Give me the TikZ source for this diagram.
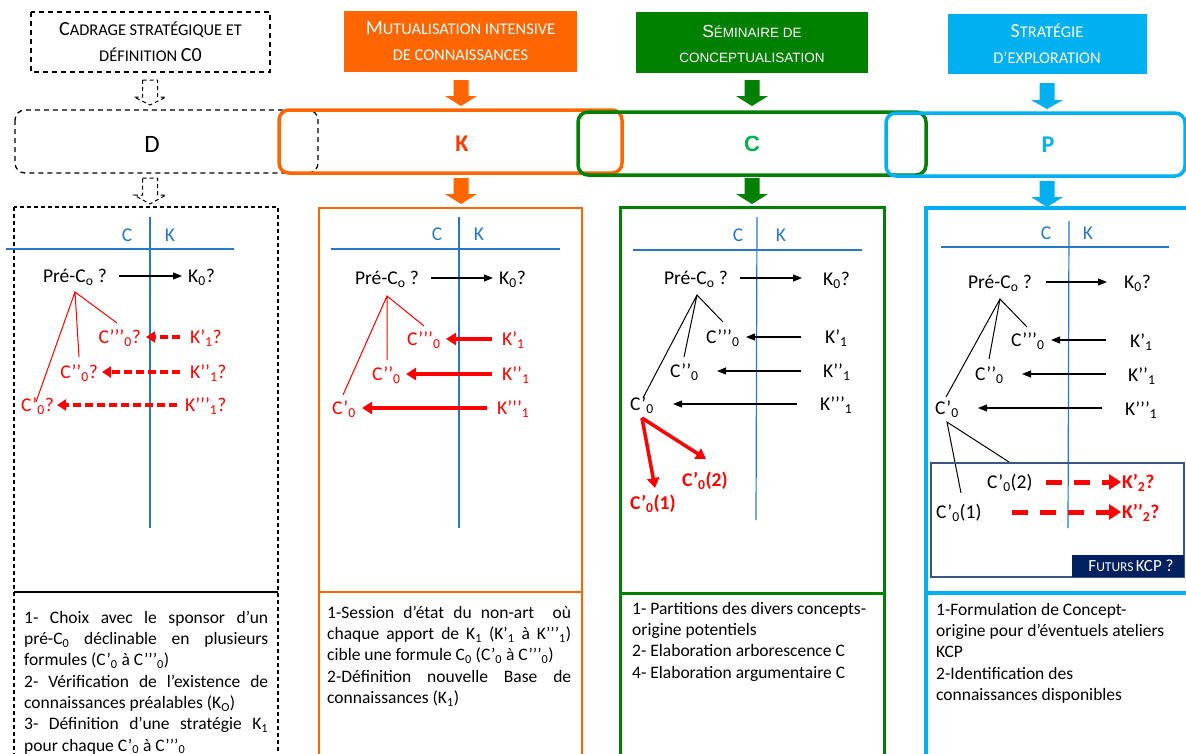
\documentclass[tikz,border=0pt]{standalone}
\usepackage{fontspec}
\setmainfont{Carlito}
\newfontfamily\arialf{Liberation Sans}
\usetikzlibrary{arrows.meta}
\definecolor{orng}{RGB}{255,102,0}
\definecolor{korng}{RGB}{255,60,0}
\definecolor{grn}{RGB}{0,128,0}
\definecolor{cgrn}{RGB}{0,176,80}
\definecolor{cyanb}{RGB}{0,176,240}
\definecolor{axb}{RGB}{40,120,195}
\definecolor{navy}{RGB}{0,32,96}
\definecolor{slate}{RGB}{56,87,135}
\newcommand\ssub[1]{\textsubscript{#1}}
\newcommand\dfont{\fontsize{19.5}{23}\selectfont}
\newcommand\bfont{\fontsize{17.5}{21.3}\selectfont}
\newcommand\Bg[1]{{\fontsize{20}{26}\selectfont #1}}
\newcommand\Sm[1]{{\fontsize{16.4}{26}\selectfont #1}}
\newcommand\ABg[1]{{\fontsize{17.5}{25}\selectfont #1}}
\newcommand\ASm[1]{{\fontsize{13.5}{25}\selectfont #1}}
\newcommand\FBg[1]{{\fontsize{17}{20}\selectfont #1}}
\newcommand\FSm[1]{{\fontsize{13.5}{20}\selectfont #1}}
\newcommand\blockarr[5]{\path[#5] (#1-7.5,#2) -- (#1+7.5,#2) -- (#1+7.5,#3) -- (#1+16,#3) -- (#1,#4) -- (#1-16,#3) -- (#1-7.5,#3) -- cycle;}
\newcommand\firstl{\rule{0pt}{14pt}}
\tikzset{
  dt/.style={font=\dfont, inner sep=0pt, text=black},
  rdt/.style={dt, text=red},
  rbdt/.style={font=\dfont\bfseries, inner sep=0pt, text=red},
  axln/.style={draw=axb, line width=1.2pt},
  axlbl/.style={font=\fontsize{19.5}{22}\selectfont, text=axb, inner sep=0pt},
  blk/.style={draw=black, line width=1.1pt, -{Triangle[length=9pt,width=7pt]}},
  treeb/.style={draw=black, line width=1pt},
  treer/.style={draw=red, line width=1pt},
  rdsh/.style={draw=red, line width=3.5pt, dash pattern=on 8pt off 4pt, -{Triangle[length=9pt,width=11pt]}},
  rsol/.style={draw=red, line width=3.5pt, -{Triangle[length=10pt,width=12pt]}},
  rdsh2/.style={draw=red, line width=5pt, dash pattern=on 16pt off 12pt, -{Triangle[length=12pt,width=15pt]}},
  btxt/.style={font=\bfont, inner sep=0pt, align=left, anchor=north west, text=black},
  hdr/.style={align=center, inner sep=0pt, font=\fontsize{16.4}{26}\selectfont},
  bigl/.style={inner sep=0pt, font=\fontsize{25}{28}\selectfont},
}
\begin{document}
\begin{tikzpicture}[x=1pt,y=-1pt]
\useasboundingbox (0,0) rectangle (1186,753);
\fill[white] (0,0) rectangle (1186,753);

% ---------------- headers ----------------
\draw[dashed, line width=1.2pt, dash pattern=on 5pt off 4pt] (31,12) rectangle (270,72);
\node[hdr] (h1) at (150.5,42) {\Bg{C}\Sm{ADRAGE STRATÉGIQUE ET}\\\Sm{DÉFINITION }\Bg{C0}};
\fill[orng] (344,11) rectangle (577,72);
\node[hdr, text=white] (h2) at (460.5,41) {\Bg{M}\Sm{UTUALISATION INTENSIVE}\\\Sm{DE CONNAISSANCES}};
\fill[grn] (636,12) rectangle (868,73);
\node[hdr, text=white, font=\arialf\fontsize{13.5}{25}\selectfont] (h3) at (752,44) {\ABg{S}\ASm{ÉMINAIRE DE}\\\ASm{CONCEPTUALISATION}};
\fill[cyanb] (948,14) rectangle (1147,74);
\node[hdr, text=white] (h4) at (1047,44) {\Bg{S}\Sm{TRATÉGIE}\\\Sm{D’EXPLORATION}};

% block arrows
\blockarr{150}{80}{97}{105}{draw=black, dashed, line width=1pt, dash pattern=on 4pt off 3pt, fill=white}
\blockarr{150}{178}{195}{204}{draw=black, dashed, line width=1pt, dash pattern=on 4pt off 3pt, fill=white}
\blockarr{461}{80}{96}{106}{fill=orng}
\blockarr{461}{178}{194}{204}{fill=orng}
\blockarr{752}{80}{96}{106}{fill=grn}
\blockarr{752}{178}{194}{204}{fill=grn}
\blockarr{1047}{83}{100}{109}{fill=cyanb}
\blockarr{1047}{181}{197}{207}{fill=cyanb}

% D K C P boxes
\draw[dashed, line width=1.3pt, dash pattern=on 5pt off 4pt, rounded corners=10pt] (15,110) rectangle (318,173);
\draw[orng, line width=3.5pt, rounded corners=10pt] (279,110) rectangle (622,173);
\draw[grn, line width=3.5pt, rounded corners=10pt] (578,112) rectangle (926,175);
\draw[cyanb, line width=3.5pt, rounded corners=10pt] (886,113) rectangle (1185,176);
\node[bigl] (D) at (152,144) {D};
\node[bigl, text=korng, font=\fontsize{24}{28}\selectfont\bfseries] (K) at (462,144) {K};
\node[bigl, text=cgrn, font=\arialf\fontsize{22}{28}\selectfont\bfseries] (C) at (752,144) {C};
\node[bigl, text=cyanb, font=\fontsize{24}{28}\selectfont\bfseries] (P) at (1048,145) {P};

% main column boxes
\draw[line width=1.2pt, dash pattern=on 4pt off 3pt] (14,207) rectangle (278,760);
\draw[line width=1.2pt] (14,592) -- (278,592);
\draw[orng, line width=2pt] (319,208) rectangle (582,760);
\draw[orng, line width=2pt] (319,592) -- (582,592);
\draw[grn, line width=3pt] (620,207) rectangle (884,760);
\draw[grn, line width=3pt] (620,593) -- (884,593);
\draw[cyanb, line width=4pt] (926,208) rectangle (1192,760);
\draw[cyanb, line width=4pt] (926,593) -- (1192,593);

% ---------------- column 1 ----------------
\draw[axln] (6,249) -- (234,249);
\draw[axln] (150,217) -- (150,528);
\node[axlbl] (a1C) at (127,235) {C};
\node[axlbl] (a1K) at (170,235) {K};
\node[dt, anchor=base] (a1pre) at (75,282) {Pré-C\ssub{o} ?};
\node[dt, anchor=base west] (a1k0) at (188,282) {K\ssub{0}?};
\coordinate (a1s0) at (119,276); \coordinate (a1e0) at (182,276);
\draw[blk] (a1s0) -- (a1e0);
\coordinate (a1ap) at (75,292);
\coordinate (a1t3) at (117,323); \coordinate (a1t2) at (79,357); \coordinate (a1t1) at (36,402);
\draw[treer] (a1t3) -- (a1ap) -- (a1t2) (a1ap) -- (a1t1);
\node[rdt, anchor=base east] (a1c3) at (141,343) {C’’’\ssub{0}?};
\node[rdt, anchor=base west] (a1k1) at (190,343) {K’\ssub{1}?};
\node[rdt, anchor=base east] (a1c2) at (98,378) {C’’\ssub{0}?};
\node[rdt, anchor=base west] (a1k2) at (190,378) {K’’\ssub{1}?};
\node[rdt, anchor=base east] (a1c1) at (54,411) {C’\ssub{0}?};
\node[rdt, anchor=base west] (a1k3) at (185,411) {K’’’\ssub{1}?};
\coordinate (a1s1) at (180,337); \coordinate (a1e1) at (146,337);
\coordinate (a1s2) at (180,372); \coordinate (a1e2) at (102,372);
\coordinate (a1s3) at (177,405); \coordinate (a1e3) at (57,405);
\draw[rdsh] (a1s1) -- (a1e1);
\draw[rdsh] (a1s2) -- (a1e2);
\draw[rdsh] (a1s3) -- (a1e3);

% ---------------- column 2 ----------------
\draw[axln] (331,249) -- (560,249);
\draw[axln] (459,217) -- (459,528);
\node[axlbl] (a2C) at (437,234) {C};
\node[axlbl] (a2K) at (479,234) {K};
\node[dt, anchor=base] (a2pre) at (387,284) {Pré-C\ssub{o} ?};
\node[dt, anchor=base west] (a2k0) at (499,284) {K\ssub{0}?};
\coordinate (a2s0) at (431,278); \coordinate (a2e0) at (493,278);
\draw[blk] (a2s0) -- (a2e0);
\coordinate (a2ap) at (387,296);
\coordinate (a2t3) at (424,326); \coordinate (a2t2) at (387,360); \coordinate (a2t1) at (343,395);
\draw[treer] (a2t3) -- (a2ap) -- (a2t2) (a2ap) -- (a2t1);
\node[rdt, anchor=base west] (a2c3) at (407,345) {C’’’\ssub{0}};
\node[rdt, anchor=base west] (a2k1) at (502,345) {K’\ssub{1}};
\node[rdt, anchor=base west] (a2c2) at (372,380) {C’’\ssub{0}};
\node[rdt, anchor=base west] (a2k2) at (502,380) {K’’\ssub{1}};
\node[rdt, anchor=base west] (a2c1) at (332,414) {C’\ssub{0}};
\node[rdt, anchor=base west] (a2k3) at (497,414) {K’’’\ssub{1}};
\coordinate (a2s1) at (492,339); \coordinate (a2e1) at (446,339);
\coordinate (a2s2) at (492,374); \coordinate (a2e2) at (406,374);
\coordinate (a2s3) at (487,408); \coordinate (a2e3) at (362,408);
\draw[rsol] (a2s1) -- (a2e1);
\draw[rsol] (a2s2) -- (a2e2);
\draw[rsol] (a2s3) -- (a2e3);

% ---------------- column 3 ----------------
\draw[axln] (633,250) -- (862,250);
\draw[axln] (757,217) -- (756,520);
\node[axlbl] (a3C) at (738,235) {C};
\node[axlbl] (a3K) at (781,235) {K};
\node[dt, anchor=base] (a3pre) at (696,284) {Pré-C\ssub{o} ?};
\node[dt, anchor=base west] (a3k0) at (823,285) {K\ssub{0}?};
\coordinate (a3s0) at (740,278); \coordinate (a3e0) at (802,278);
\draw[blk] (a3s0) -- (a3e0);
\coordinate (a3ap) at (697,295);
\coordinate (a3t3) at (723,322); \coordinate (a3t2) at (684,357); \coordinate (a3t1) at (643,398);
\draw[treeb] (a3t3) -- (a3ap) -- (a3t2) (a3ap) -- (a3t1);
\node[dt, anchor=base west] (a3c3) at (706,343) {C’’’\ssub{0}};
\node[dt, anchor=base west] (a3k1) at (825,343) {K’\ssub{1}};
\node[dt, anchor=base west] (a3c2) at (670,377) {C’’\ssub{0}};
\node[dt, anchor=base west] (a3k2) at (823,377) {K’’\ssub{1}};
\node[dt, anchor=base west] (a3c1) at (630,410) {C’\ssub{0}};
\node[dt, anchor=base west] (a3k3) at (820,410) {K’’’\ssub{1}};
\coordinate (a3s1) at (801,337); \coordinate (a3e1) at (746,337);
\coordinate (a3s2) at (801,371); \coordinate (a3e2) at (717,371);
\coordinate (a3s3) at (797,404); \coordinate (a3e3) at (673,404);
\draw[blk] (a3s1) -- (a3e1);
\draw[blk] (a3s2) -- (a3e2);
\draw[blk] (a3s3) -- (a3e3);
\coordinate (a3r0) at (642,418);
\coordinate (a3r1) at (655,488); \coordinate (a3r2) at (706,459);
\draw[rsol] (a3r0) -- (a3r1);
\draw[rsol] (a3r0) -- (a3r2);
\node[rbdt, anchor=base west] (a3c02) at (682,486) {C’\ssub{0}(2)};
\node[rbdt, anchor=base west] (a3c01) at (630,509) {C’\ssub{0}(1)};

% ---------------- column 4 ----------------
\draw[axln] (941,247) -- (1169,247);
\draw[axln] (1069,221) -- (1068,528);
\node[axlbl] (a4C) at (1046,233) {C};
\node[axlbl] (a4K) at (1088,233) {K};
\node[dt, anchor=base] (a4pre) at (1000,288) {Pré-C\ssub{o} ?};
\node[dt, anchor=base west] (a4k0) at (1124,288) {K\ssub{0}?};
\coordinate (a4s0) at (1046,282); \coordinate (a4e0) at (1107,282);
\draw[blk] (a4s0) -- (a4e0);
\coordinate (a4ap) at (1000,299);
\coordinate (a4t3) at (1027,327); \coordinate (a4t2) at (989,359); \coordinate (a4t1) at (946,397);
\draw[treeb] (a4t3) -- (a4ap) -- (a4t2) (a4ap) -- (a4t1);
\node[dt, anchor=base west] (a4c3) at (1011,346) {C’’’\ssub{0}};
\node[dt, anchor=base west] (a4k1) at (1130,347) {K’\ssub{1}};
\node[dt, anchor=base west] (a4c2) at (975,380) {C’’\ssub{0}};
\node[dt, anchor=base west] (a4k2) at (1128,381) {K’’\ssub{1}};
\node[dt, anchor=base west] (a4c1) at (935,414) {C’\ssub{0}};
\node[dt, anchor=base west] (a4k3) at (1125,415) {K’’’\ssub{1}};
\coordinate (a4s1) at (1106,340); \coordinate (a4e1) at (1051,340);
\coordinate (a4s2) at (1106,374); \coordinate (a4e2) at (1022,374);
\coordinate (a4s3) at (1102,408); \coordinate (a4e3) at (978,408);
\draw[blk] (a4s1) -- (a4e1);
\draw[blk] (a4s2) -- (a4e2);
\draw[blk] (a4s3) -- (a4e3);
\coordinate (a4sap) at (947,422);
\coordinate (a4u1) at (961,493); \coordinate (a4u2) at (1009,462);
\draw[treeb] (a4u1) -- (a4sap) -- (a4u2);
\draw[slate, line width=2.5pt] (931,463) rectangle (1184,577);
\fill[navy] (1072,555) rectangle (1184,577);
\node[inner sep=0pt, text=white] (fut) at (1131,566) {\FBg{F}\FSm{UTURS} \FBg{KCP ?}};
\node[dt, anchor=base west] (a4c02) at (987,488) {C’\ssub{0}(2)};
\node[dt, anchor=base west] (a4c01) at (936,518) {C’\ssub{0}(1)};
\node[rbdt, anchor=base west] (a4k21) at (1122,488) {K’\ssub{2}?};
\node[rbdt, anchor=base west] (a4k22) at (1122,518) {K’’\ssub{2}?};
\coordinate (a4d1s) at (1046,482); \coordinate (a4d1e) at (1121,482);
\coordinate (a4d2s) at (1012,512); \coordinate (a4d2e) at (1121,512);
\draw[rdsh2] (a4d1s) -- (a4d1e);
\draw[rdsh2] (a4d2s) -- (a4d2e);

% ---------------- bottom texts ----------------
\node[btxt] (b1) at (24,609) {\firstl\makebox[244pt][s]{1- Choix avec le sponsor d’un}\\
\makebox[244pt][s]{pré-C\ssub{0} déclinable en plusieurs}\\
formules (C’\ssub{0} à C’’’\ssub{0})\\
\makebox[244pt][s]{2- Vérification de l’existence de}\\
connaissances préalables (K\ssub{O})\\
\makebox[244pt][s]{3- Définition d’une stratégie K\ssub{1}}\\
pour chaque C’\ssub{0} à C’’’\ssub{0}};
\node[btxt] (b2) at (327,604) {\firstl\makebox[244pt][s]{1-Session d’état du non-art \ où}\\
\makebox[244pt][s]{chaque apport de K\ssub{1} (K’\ssub{1} à K’’’\ssub{1})}\\
cible une formule C\ssub{0} (C'\ssub{0} à C’’’\ssub{0})\\
\makebox[244pt][s]{2-Définition nouvelle Base de}\\
connaissances (K\ssub{1})};
\node[btxt] (b3) at (632,600) {\firstl 1- Partitions des divers concepts-\\
origine potentiels\\
2- Elaboration arborescence C\\
4- Elaboration argumentaire C};
\node[btxt] (b4) at (936,601) {\firstl 1-Formulation de Concept-\\
origine pour d’éventuels ateliers\\
KCP\\
2-Identification des\\
connaissances disponibles};
\end{tikzpicture}
\end{document}
